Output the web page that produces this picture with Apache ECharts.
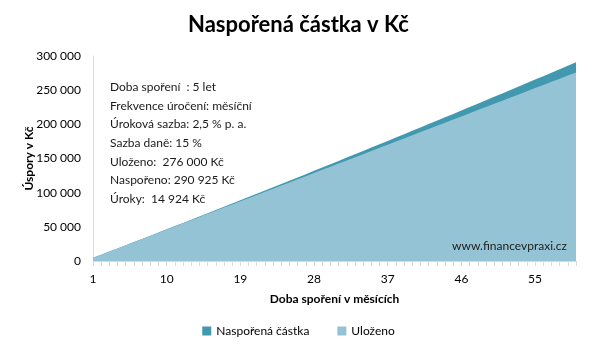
<!DOCTYPE html>
<html><head><meta charset="utf-8">
<script src="https://cdn.jsdelivr.net/npm/echarts@6/dist/echarts.min.js"></script>
<style>html,body{margin:0;padding:0;background:#fff}#c{width:597px;height:355px}</style>
</head><body><div id="c"></div>
<script>
const months = [];
for (let i = 1; i <= 60; i++) months.push(String(i));
const ulozeno = [4600,9200,13800,18400,23000,27600,32200,36800,41400,46000,
50600,55200,59800,64400,69000,73600,78200,82800,87400,92000,
96600,101200,105800,110400,115000,119600,124200,128800,133400,138000,
142600,147200,151800,156400,161000,165600,170200,174800,179400,184000,
188600,193200,197800,202400,207000,211600,216200,220800,225400,230000,
234600,239200,243800,248400,253000,257600,262200,266800,271400,276000];
const naspoureno = [4600,9208,13824,18449,23082,27722,32372,37029,41694,46368,
51050,55741,60440,65147,69862,74586,79318,84059,88808,93565,
98331,103105,107888,112679,117478,122287,127103,131928,136762,141604,
146455,151314,156182,161059,165944,170838,175740,180651,185571,190499,
195433,200379,205334,210297,215269,220250,225240,230238,235245,240261,
245286,250320,255363,260414,265475,270544,275623,280710,285807,290925];
const infoLines = ['Doba spoření  : 5 let','Frekvence úročení: měsíční','Úroková sazba: 2,5 % p. a.','Sazba daně: 15 %','Uloženo:  276 000 Kč','Naspořeno: 290 925 Kč','Úroky:  14 924 Kč'];
const seriesNames = ['Naspořená částka','Uloženo'];

const FONT = 'Lato, "Open Sans", sans-serif';
const chart = echarts.init(document.getElementById('c'));
const graphics = infoLines.map((t, i) => ({
  type: 'text', left: 110, top: 81 + i * 18.7, z: 100,
  style: { text: t, font: '12px ' + FONT, fill: '#1a1a1a' }
}));
graphics.push({type:'text', right: 30, top: 240, z: 100, style:{text:'www.financevpraxi.cz', font:'12px '+FONT, fill:'#222'}});
chart.setOption({
  animation: false,
  title: { text: 'Naspořená částka v Kč', left: 'center', top: 9,
    textStyle: { fontFamily: FONT, fontSize: 22, fontWeight: 'bold', color: '#000' } },
  legend: { bottom: 13, left: 'center', itemWidth: 9, itemHeight: 9, itemGap: 28,
    icon: 'rect', data: seriesNames,
    textStyle: { fontFamily: FONT, fontSize: 12, color: '#000' } },
  grid: { left: 93, right: 21, top: 56, bottom: 94 },
  xAxis: { type: 'category', data: months, boundaryGap: false,
    name: 'Doba spoření v měsících', nameLocation: 'middle', nameGap: 32,
    nameTextStyle: { fontFamily: FONT, fontSize: 12, fontWeight: 'bold', color: '#000' },
    axisLine: { lineStyle: { color: '#d9d9d9', width: 1 } },
    axisTick: { show: true, interval: 0, length: 5, lineStyle: { color: '#d9d9d9' } },
    axisLabel: { interval: 8, margin: 12, fontFamily: FONT, fontSize: 12, color: '#000' } },
  yAxis: { type: 'value', min: 0, max: 300000, interval: 50000,
    name: 'Úspory v Kč', nameLocation: 'middle', nameGap: 58, nameRotate: 90,
    nameMoveOverlap: false,
    nameTextStyle: { fontFamily: FONT, fontSize: 12, fontWeight: 'bold', color: '#000' },
    axisLine: { show: true, lineStyle: { color: '#d9d9d9' } },
    axisTick: { show: false }, splitLine: { show: false },
    axisLabel: { margin: 12, fontFamily: FONT, fontSize: 12, color: '#000',
      formatter: v => String(v).replace(/\B(?=(\d{3})+(?!\d))/g, ' ') } },
  series: [
    { name: seriesNames[0], type: 'line', data: naspoureno, symbol: 'none',
      lineStyle: { width: 0 }, itemStyle: { color: '#4198AF' },
      areaStyle: { color: '#4198AF', opacity: 1 } },
    { name: seriesNames[1], type: 'line', data: ulozeno, symbol: 'none',
      lineStyle: { width: 0 }, itemStyle: { color: '#93C3D4' },
      areaStyle: { color: '#93C3D4', opacity: 1 } }
  ],
  graphic: graphics
});
</script></body></html>
